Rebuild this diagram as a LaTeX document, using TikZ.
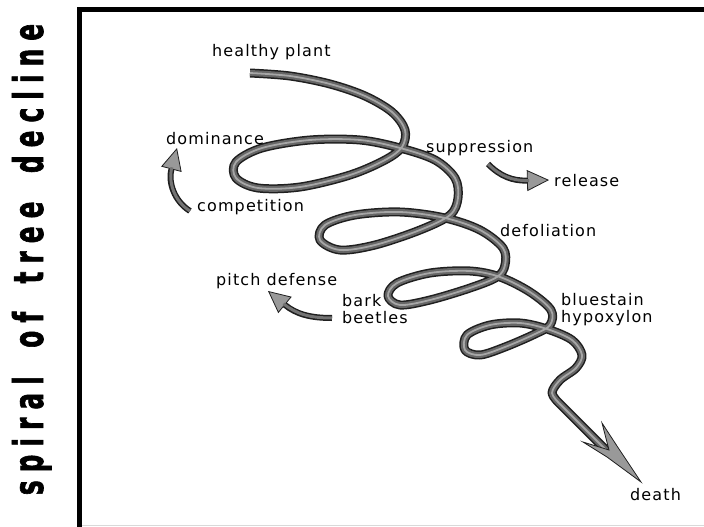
\documentclass[tikz,border=0pt]{standalone}
\usepackage{fontspec}
\usepackage{tikz}
\usetikzlibrary{arrows.meta}
\newfontfamily\rotulo{DejaVu Sans}[LetterSpace=7]
\newfontfamily\titulo{DejaVu Sans}[FakeStretch=0.6, FakeBold=1.5, LetterSpace=20, WordSpace=1.7]
\tikzset{
  texto/.style={font=\rotulo\fontsize{16}{17}\selectfont, inner sep=0pt, align=left},
  tubo/.style={draw=black!60, line width=6pt, line join=round, preaction={draw=black!88, line width=9pt, line join=round}, postaction={draw=black!35, line width=1.8pt, line join=round}},
  seta/.style={draw=black!88, line width=6pt, -{Triangle[length=22pt,width=21pt,line width=0.8pt,fill=black!40]}, postaction={draw=black!55, line width=3pt, -, shorten >=20pt}}
}
\begin{document}
\begin{tikzpicture}[x=1pt, y=-1pt] %Unidades em pixels, y para baixo
					\useasboundingbox (0,0) rectangle (704,527); %Margens da figura
						%Moldura
					\draw[line width=5pt] (79.5,527) -- (79.5,9.5) -- (704,9.5); %Lados esquerdo e superior
					\draw[black!15, line width=1pt] (82,525.5) -- (704,525.5); %Linha inferior
						%Titulo vertical
					\node[font=\titulo\bfseries\fontsize{41}{41}\selectfont, rotate=90, anchor=base, inner sep=0pt] (titulo) at (43,259.5) {spiral of tree decline};
						%Espiral
					\draw[tubo] plot[smooth, tension=0.55] coordinates {(250,73) (290,76) (330,84) (365,96) (392,112) (405,130) (402,147) (385,160) (350,175) (300,187) (258,188) (236,178) (236,162) (262,148) (310,140) (360,140) (400,148) (435,160) (455,178) (458,198) (450,215) (420,230) (375,245) (340,250) (320,240) (325,225) (355,215) (400,212) (445,218) (480,230) (503,248) (505,265) (497,277) (470,288) (430,300) (400,305) (388,296) (397,283) (430,273) (470,271) (500,277) (530,292) (551,310) (550,325) (535,334) (505,347) (480,355) (465,350) (467,335) (490,325) (520,323) (547,329) (572,340) (582,355) (576,368) (560,380) (552,393) (560,404)} -- (608,452); %Espiral do declinio
					\filldraw[draw=black!88, line width=0.8pt, fill=black!40] (641,482) -- (607,457) -- (583,442) -- (609,450) -- (602,423) -- (617,446) -- cycle; %Ponta da seta final
						%Rotulos
					\node[texto, anchor=base west] (planta) at (212,57) {healthy plant};
					\node[texto, anchor=base west] (dominancia) at (166,144) {dominance};
					\node[texto, anchor=base west] (competicao) at (197,211) {competition};
					\node[texto, anchor=base west] (supressao) at (426,152) {suppression};
					\node[texto, anchor=base west] (liberacao) at (554,186) {release};
					\node[texto, anchor=base west] (desfolha) at (500,236) {defoliation};
					\node[texto, anchor=base west] (resina) at (216,285) {pitch defense};
					\node[texto, anchor=north west] (besouros) at (342,294) {bark\\beetles};
					\node[texto, anchor=north west] (fungos) at (561,293) {bluestain\\hypoxylon};
					\node[texto, anchor=base west] (morte) at (630,500) {death};
						%Setas pequenas
					\coordinate (c1) at (190,211); \coordinate (c2) at (177,148); %competition para dominance
					\coordinate (s1) at (488,164); \coordinate (s2) at (549,180); %suppression para release
					\coordinate (b1) at (332,318); \coordinate (b2) at (268,291); %bark beetles para pitch defense
					\draw[seta] (c1) .. controls (174,201) and (168,182) .. (c2);
					\draw[seta] (s1) .. controls (500,176) and (512,181) .. (s2);
					\draw[seta] (b1) .. controls (310,318) and (296,314) .. (b2);
				\end{tikzpicture}
\end{document}
